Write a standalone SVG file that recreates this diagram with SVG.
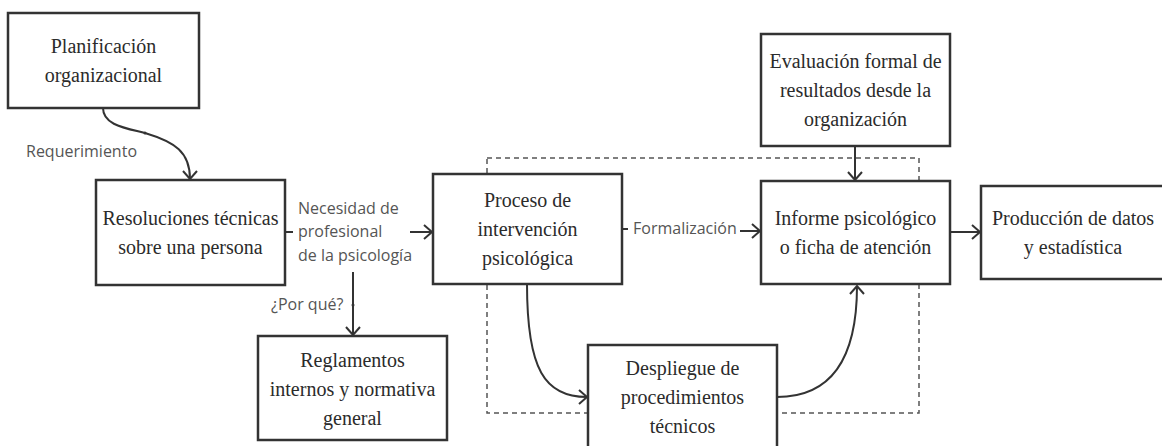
<svg xmlns="http://www.w3.org/2000/svg" width="1162" height="446" viewBox="0 0 1162 446">
<style>
.box{fill:#fff;stroke:#333;stroke-width:2.5}
.t{font-family:"Liberation Serif","DejaVu Serif",serif;font-size:20px;fill:#2b2b2b;text-anchor:middle}
.lbl{font-family:"Open Sans","Liberation Sans",sans-serif;font-size:16px;fill:#555}
.c{fill:none;stroke:#333;stroke-width:2}
.d{fill:none;stroke:#555;stroke-width:1.5;stroke-dasharray:5 4}
</style>
<defs>
<marker id="a" markerUnits="userSpaceOnUse" markerWidth="14" markerHeight="16" refX="10" refY="8" orient="auto">
<path d="M2,1 L10,8 L2,15" fill="none" stroke="#333" stroke-width="2"/>
</marker>
</defs>
<rect width="1162" height="446" fill="#fff"/>
<g id="dashed-frame">
<path class="d" d="M487,158 H919 V413 H487 Z"/>
</g>
<g id="connectors">
<path class="c" d="M103,108 C103,125 125,128 145,133 C175,142 190,152 190,179" marker-end="url(#a)"/>
<circle cx="145" cy="133" r="1.5" fill="#333"/>
<path class="c" d="M285,232 H293"/>
<path class="c" d="M410,232 H432" marker-end="url(#a)"/>
<path class="c" d="M353,272 V335" marker-end="url(#a)"/>
<path class="c" d="M622,229 H628"/>
<path class="c" d="M740,231 H760" marker-end="url(#a)"/>
<path class="c" d="M855,146 V180" marker-end="url(#a)"/>
<path class="c" d="M950,232 H980" marker-end="url(#a)"/>
<path class="c" d="M527,284 C527,370 545,397 587,397" marker-end="url(#a)"/>
<path class="c" d="M777,397 C830,397 857,360 857,286" marker-end="url(#a)"/>
</g>
<g id="labels">
<text class="lbl" x="26" y="157">Requerimiento</text>
<text class="lbl" x="298" y="214">Necesidad de</text>
<text class="lbl" x="298" y="237">profesional</text>
<text class="lbl" x="298" y="261">de la psicología</text>
<text class="lbl" x="271" y="310">¿Por qué?</text>
<circle cx="353" cy="305" r="1.5" fill="#333"/>
<text class="lbl" x="633" y="234">Formalización</text>
</g>
<g id="planificacion">
<rect class="box" x="8" y="13" width="191" height="95"/>
<text class="t" x="103.5" y="53">Planificación</text>
<text class="t" x="103.5" y="82">organizacional</text>
</g>
<g id="resoluciones">
<rect class="box" x="96" y="180" width="189" height="105"/>
<text class="t" x="190.5" y="225">Resoluciones técnicas</text>
<text class="t" x="190.5" y="254">sobre una persona</text>
</g>
<g id="reglamentos">
<rect class="box" x="258" y="336" width="189" height="104"/>
<text class="t" x="352.5" y="367">Reglamentos</text>
<text class="t" x="352.5" y="396">internos y normativa</text>
<text class="t" x="352.5" y="425">general</text>
</g>
<g id="proceso">
<rect class="box" x="433" y="174" width="189" height="110"/>
<text class="t" x="527.5" y="207">Proceso de</text>
<text class="t" x="527.5" y="236">intervención</text>
<text class="t" x="527.5" y="265">psicológica</text>
</g>
<g id="despliegue">
<rect class="box" x="588" y="345" width="189" height="115"/>
<text class="t" x="682.5" y="375">Despliegue de</text>
<text class="t" x="682.5" y="404">procedimientos</text>
<text class="t" x="682.5" y="433">técnicos</text>
</g>
<g id="evaluacion">
<rect class="box" x="761" y="34" width="189" height="112"/>
<text class="t" x="855.5" y="68">Evaluación formal de</text>
<text class="t" x="855.5" y="97">resultados desde la</text>
<text class="t" x="855.5" y="126">organización</text>
</g>
<g id="informe">
<rect class="box" x="761" y="181" width="189" height="103"/>
<text class="t" x="855.5" y="225">Informe psicológico</text>
<text class="t" x="855.5" y="254">o ficha de atención</text>
</g>
<g id="produccion">
<rect class="box" x="981" y="186" width="190" height="93"/>
<text class="t" x="1073" y="225">Producción de datos</text>
<text class="t" x="1073" y="254">y estadística</text>
</g>
</svg>
